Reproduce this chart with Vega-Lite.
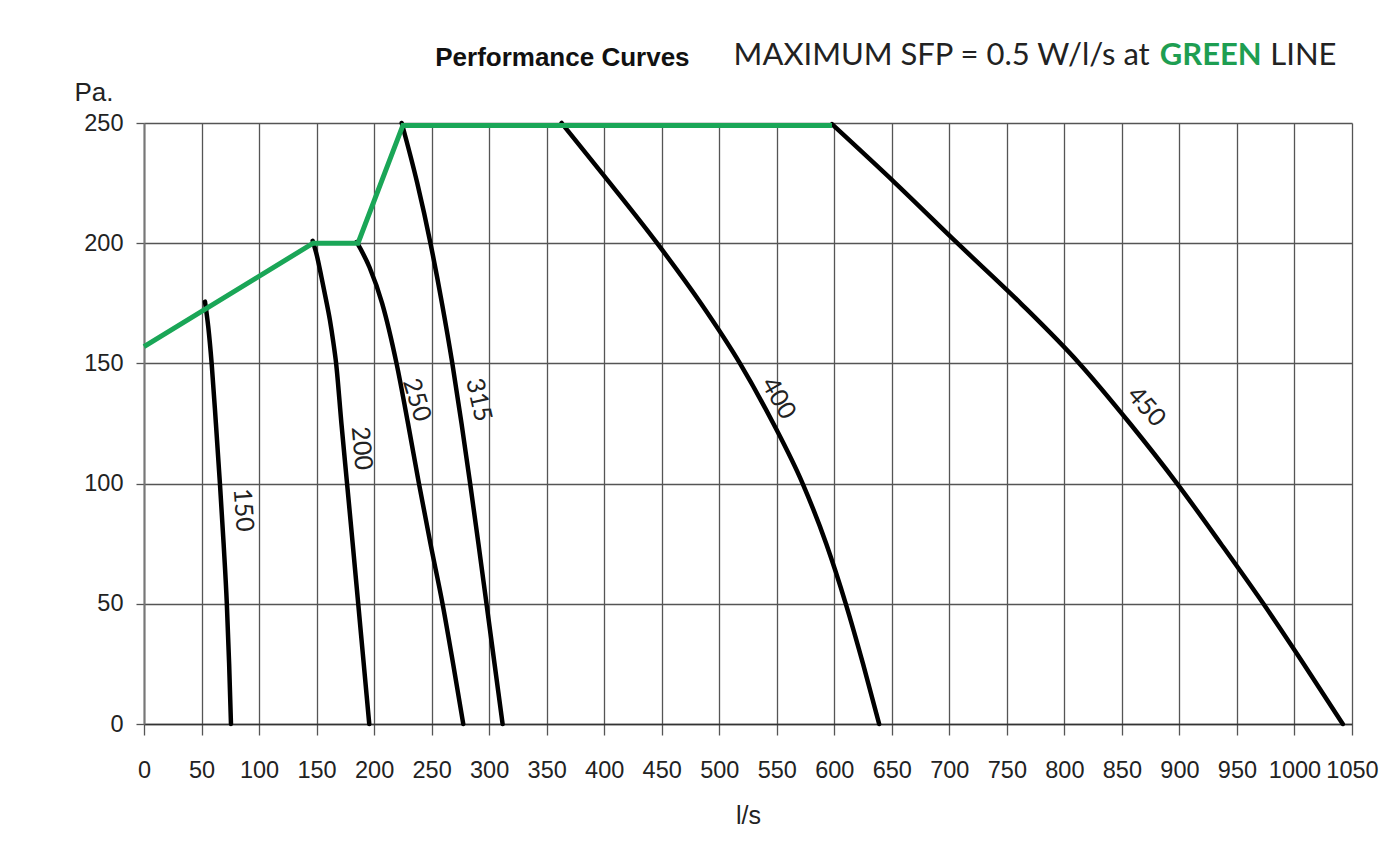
{
  "$schema": "https://vega.github.io/schema/vega-lite/v6.json",
  "width": 1208,
  "height": 601,
  "autosize": "none",
  "padding": {"left": 144, "top": 123, "right": 35, "bottom": 135},
  "background": "white",
  "config": {
    "view": {"stroke": null},
    "axis": {
      "grid": true,
      "gridColor": "#555555",
      "gridWidth": 1.3,
      "gridOpacity": 1,
      "tickColor": "#555555",
      "tickWidth": 1.3,
      "labelFont": "Liberation Sans, Arial, sans-serif",
      "labelFontSize": 23.5,
      "labelColor": "#222222",
      "titleFont": "Liberation Sans, Arial, sans-serif",
      "titleFontSize": 25,
      "titleFontWeight": "normal",
      "titleColor": "#222222",
      "labelOverlap": false,
      "labelFlush": false
    }
  },
  "datasets": {
    "curves": [
      {"curve": "150", "q": 53, "p": 175.7},
      {"curve": "150", "q": 55.9, "p": 165},
      {"curve": "150", "q": 58.8, "p": 150},
      {"curve": "150", "q": 62.5, "p": 125},
      {"curve": "150", "q": 66, "p": 100},
      {"curve": "150", "q": 69.2, "p": 75},
      {"curve": "150", "q": 72, "p": 50},
      {"curve": "150", "q": 74, "p": 25},
      {"curve": "150", "q": 75.6, "p": 0},
      {"curve": "200", "q": 146.6, "p": 201},
      {"curve": "200", "q": 150.2, "p": 195},
      {"curve": "200", "q": 154.2, "p": 186},
      {"curve": "200", "q": 158, "p": 177},
      {"curve": "200", "q": 161.6, "p": 168},
      {"curve": "200", "q": 164.5, "p": 159},
      {"curve": "200", "q": 167, "p": 150},
      {"curve": "200", "q": 171.6, "p": 125},
      {"curve": "200", "q": 176.5, "p": 100},
      {"curve": "200", "q": 181.4, "p": 75},
      {"curve": "200", "q": 186.2, "p": 50},
      {"curve": "200", "q": 191, "p": 25},
      {"curve": "200", "q": 195.8, "p": 0},
      {"curve": "250", "q": 184.8, "p": 200.5},
      {"curve": "250", "q": 196, "p": 190},
      {"curve": "250", "q": 207, "p": 175},
      {"curve": "250", "q": 219.5, "p": 150},
      {"curve": "250", "q": 229.5, "p": 125},
      {"curve": "250", "q": 239, "p": 100},
      {"curve": "250", "q": 249, "p": 75},
      {"curve": "250", "q": 259.5, "p": 50},
      {"curve": "250", "q": 268.7, "p": 25},
      {"curve": "250", "q": 277.5, "p": 0},
      {"curve": "315", "q": 224, "p": 250},
      {"curve": "315", "q": 237.5, "p": 225},
      {"curve": "315", "q": 249, "p": 200},
      {"curve": "315", "q": 259, "p": 175},
      {"curve": "315", "q": 268, "p": 150},
      {"curve": "315", "q": 276, "p": 125},
      {"curve": "315", "q": 283.5, "p": 100},
      {"curve": "315", "q": 290.7, "p": 75},
      {"curve": "315", "q": 297.7, "p": 50},
      {"curve": "315", "q": 304.7, "p": 25},
      {"curve": "315", "q": 311.7, "p": 0},
      {"curve": "400", "q": 363, "p": 250},
      {"curve": "400", "q": 405, "p": 225},
      {"curve": "400", "q": 446, "p": 200},
      {"curve": "400", "q": 484, "p": 175},
      {"curve": "400", "q": 518, "p": 150},
      {"curve": "400", "q": 547, "p": 125},
      {"curve": "400", "q": 572.5, "p": 100},
      {"curve": "400", "q": 593, "p": 75},
      {"curve": "400", "q": 610, "p": 50},
      {"curve": "400", "q": 625, "p": 25},
      {"curve": "400", "q": 639, "p": 0},
      {"curve": "450", "q": 598, "p": 249.5},
      {"curve": "450", "q": 653, "p": 225},
      {"curve": "450", "q": 707, "p": 200},
      {"curve": "450", "q": 762, "p": 175},
      {"curve": "450", "q": 813, "p": 150},
      {"curve": "450", "q": 857, "p": 125},
      {"curve": "450", "q": 898, "p": 100},
      {"curve": "450", "q": 936, "p": 75},
      {"curve": "450", "q": 973, "p": 50},
      {"curve": "450", "q": 1008, "p": 25},
      {"curve": "450", "q": 1042, "p": 0}
    ],
    "sfp": [
      {"q": 0, "p": 157},
      {"q": 147, "p": 200},
      {"q": 186, "p": 200},
      {"q": 225, "p": 249},
      {"q": 598, "p": 249}
    ],
    "labels": [
      {"curve": "150", "q": 86.3, "p": 89},
      {"curve": "200", "q": 189.2, "p": 114.7},
      {"curve": "250", "q": 237, "p": 134.8},
      {"curve": "315", "q": 291, "p": 134.8},
      {"curve": "400", "q": 551.5, "p": 135.5},
      {"curve": "450", "q": 871.3, "p": 132}
    ]
  },
  "layer": [
    {
      "data": {"name": "curves"},
      "mark": {"type": "line", "color": "#000000", "strokeWidth": 4.5, "interpolate": "monotone", "strokeCap": "round"},
      "encoding": {
        "x": {
          "field": "q", "type": "quantitative",
          "scale": {"domain": [0, 1050], "nice": false, "zero": false},
          "axis": {
            "values": [0,25,50,75,100,125,150,175,200,225,250,275,300,325,350,375,400,425,450,475,500,525,550,575,600,625,650,675,700,725,750,775,800,825,850,875,900,925,950,975,1000,1025,1050],
            "format": "d",
            "labelExpr": "datum.value % 50 === 0 ? datum.label : ''",
            "tickOpacity": {"condition": {"test": "datum.value % 50 === 0", "value": 1}, "value": 0},
            "tickSize": 11,
            "labelPadding": 23,
            "domainColor": "#333333",
            "domainWidth": 1.5,
            "title": "l/s",
            "titlePadding": 22
          }
        },
        "y": {
          "field": "p", "type": "quantitative",
          "scale": {"domain": [0, 250], "nice": false},
          "axis": {
            "values": [0, 50, 100, 150, 200, 250],
            "format": "d",
            "tickSize": 8,
            "labelPadding": 13,
            "domainColor": "#777777",
            "domainWidth": 2,
            "title": "Pa.",
            "titleFontSize": 26,
            "titleAngle": 0,
            "titleAlign": "left",
            "titleBaseline": "alphabetic",
            "titleX": -70,
            "titleY": -23
          }
        },
        "detail": {"field": "curve"}
      }
    },
    {
      "data": {"name": "sfp"},
      "mark": {"type": "line", "color": "#1aa657", "strokeWidth": 5, "strokeJoin": "miter"},
      "encoding": {
        "x": {"field": "q", "type": "quantitative"},
        "y": {"field": "p", "type": "quantitative"}
      }
    },
    {
      "data": {"name": "labels"},
      "mark": {"type": "text", "font": "Lato", "fontSize": 25, "color": "#222222", "align": "center", "baseline": "middle"},
      "encoding": {
        "x": {"field": "q", "type": "quantitative"},
        "y": {"field": "p", "type": "quantitative"},
        "text": {"field": "curve"},
        "angle": {
          "field": "curve", "type": "nominal",
          "scale": {"type": "ordinal", "domain": ["150", "200", "250", "315", "400", "450"], "range": [86, 85, 73, 77, 60, 48]},
          "legend": null
        }
      }
    },
    {
      "data": {"values": [{"q": 474.2, "p": 273.8, "label": "Performance Curves"}]},
      "mark": {"type": "text", "font": "Liberation Sans, Arial, sans-serif", "fontWeight": "bold", "fontSize": 26, "color": "#111111", "align": "right", "baseline": "alphabetic"},
      "encoding": {
        "x": {"field": "q", "type": "quantitative"},
        "y": {"field": "p", "type": "quantitative"},
        "text": {"field": "label"}
      }
    },
    {
      "data": {"values": [{"q": 874.2, "p": 274.2, "label": "MAXIMUM SFP = 0.5 W/l/s at"}]},
      "mark": {"type": "text", "font": "Lato", "fontSize": 31, "color": "#222222", "align": "right", "baseline": "alphabetic"},
      "encoding": {
        "x": {"field": "q", "type": "quantitative"},
        "y": {"field": "p", "type": "quantitative"},
        "text": {"field": "label"}
      }
    },
    {
      "data": {"values": [{"q": 882.9, "p": 274.2, "label": "GREEN"}]},
      "mark": {"type": "text", "font": "Lato", "fontSize": 31, "fontWeight": "bold", "color": "#1e9e52", "align": "left", "baseline": "alphabetic"},
      "encoding": {
        "x": {"field": "q", "type": "quantitative"},
        "y": {"field": "p", "type": "quantitative"},
        "text": {"field": "label"}
      }
    },
    {
      "data": {"values": [{"q": 979, "p": 274.2, "label": "LINE"}]},
      "mark": {"type": "text", "font": "Lato", "fontSize": 31, "color": "#222222", "align": "left", "baseline": "alphabetic"},
      "encoding": {
        "x": {"field": "q", "type": "quantitative"},
        "y": {"field": "p", "type": "quantitative"},
        "text": {"field": "label"}
      }
    }
  ]
}
